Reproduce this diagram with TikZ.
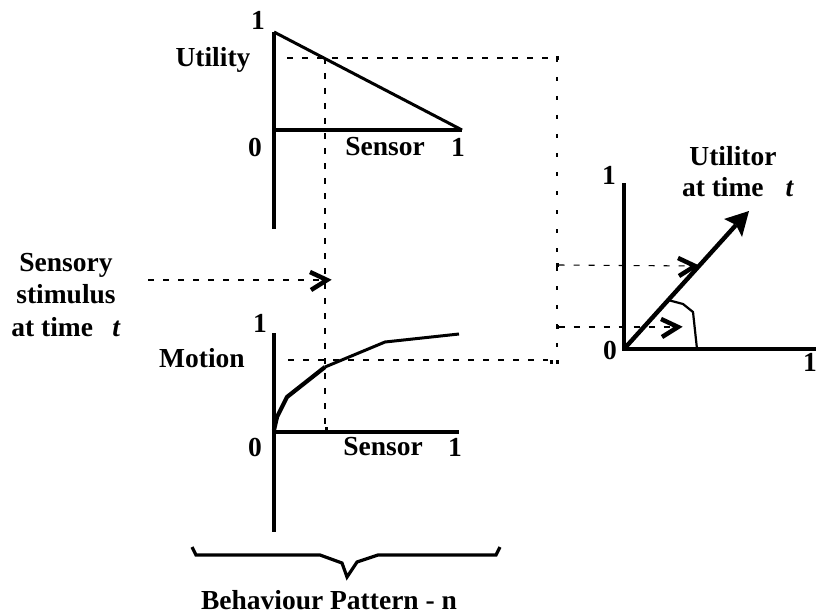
\documentclass[tikz,border=0pt]{standalone}
\usepackage{fontspec}
\setmainfont{Liberation Serif}
\usetikzlibrary{calc}
\begin{document}
\begin{tikzpicture}[x=1pt,y=-1pt,
  lbl/.style={inner sep=0pt,font=\fontsize{27.5}{32.5}\selectfont\bfseries},
  axis/.style={line width=3.6pt},
  curve/.style={line width=3pt,line join=round},
  dline/.style={line width=1.1pt,dash pattern=on 6pt off 9pt},
  dsparse/.style={line width=1.1pt,dash pattern=on 4pt off 15pt},
  chevron/.style={line width=4.5pt,line join=miter,line cap=butt},
  dot/.style={fill=black,inner sep=0pt,minimum width=3pt,minimum height=4pt}]
\useasboundingbox (0,0) rectangle (816,615);
% ---------- top chart (Utility) ----------
\coordinate (uTop) at (274,32);
\coordinate (uO) at (274,130);
\coordinate (uBot) at (274,229);
\coordinate (uEnd) at (462,130);
\draw[axis] (uTop) -- (uBot);
\draw[axis] (uO) -- (uEnd);
\draw[curve] (uTop) -- (uEnd);
\node[lbl] (u1) at (258,20) {1};
\node[lbl] (uLab) at (213,60) {Utility};
\node[lbl] (u0) at (255,147) {0};
\node[lbl] (uSen) at (385,147) {Sensor};
\node[lbl] (uS1) at (458,147) {1};
% ---------- dashed guides ----------
\coordinate (uDL) at (287,58);
\coordinate (uDR) at (557,58);
\coordinate (sTop) at (325,58);
\coordinate (sBot) at (325,429);
\coordinate (rvBot) at (557,362);
\draw[dline] (uDL) -- (uDR);
\draw[dline] (sTop) -- (sBot);
\draw[dsparse] (uDR) -- (rvBot);
\node[dot] (q1) at (uDR) {};
\node[dot,minimum width=3pt,minimum height=5pt] (q0) at (326,429) {};
% sensory stimulus
\node[lbl,align=center] (stim) at (66,295) {Sensory\\stimulus\\at time\hspace{0.45em} \textit{t}};
\coordinate (stL) at (148,280);
\coordinate (stR) at (327,280);
\draw[dline] (stL) -- (stR);
\draw[chevron] ($(stR)+(-17,-8)$) -- (stR) -- ($(stR)+(-16,10)$);
% ---------- motion chart ----------
\coordinate (mTop) at (274,333);
\coordinate (mO) at (274,432);
\coordinate (mBot) at (274,532);
\coordinate (mEnd) at (459,432);
\draw[axis] (mTop) -- (mBot);
\draw[axis] (mO) -- (mEnd);
\draw[line width=4.2pt,line join=round] (274,430) -- (277,417) -- (287,397) -- (325,367);
\draw[curve] (325,367) -- (385,342) -- (459,334);
\coordinate (mDL) at (288,360);
\coordinate (mDR) at (548,360);
\draw[dline] (mDL) -- (mDR);
\node[dot] (q2) at (551,362) {};
\node[dot] (q3) at (557,362) {};
\node[lbl] (m1) at (260,323) {1};
\node[lbl] (mLab) at (202,358) {Motion};
\node[lbl] (m0) at (255,447) {0};
\node[lbl] (mSen) at (383,447) {Sensor};
\node[lbl] (mS1) at (455,447) {1};
% ---------- brace ----------
\draw[line width=3.2pt,line join=miter] (192,547) -- (196,555) -- (320,555) -- (342,563) -- (347,577)
  -- (357,562) -- (378,555) -- (496,555) -- (500,547);
\node[lbl] (beh) at (329,600) {Behaviour Pattern - n};
% ---------- right chart (Utilitor) ----------
\coordinate (rTop) at (624,183);
\coordinate (rO) at (624,349);
\coordinate (rEnd) at (816,349);
\coordinate (vTip) at (749,211);
\coordinate (vBase) at (736,225);
\draw[axis] (rTop) -- (rO) -- (rEnd);
\draw[line width=4.4pt] (rO) -- (vBase);
\fill (vTip) -- (724,219) -- (736,225) -- (742,237) -- cycle;
\draw[line width=2.2pt,line join=round] (668,300) -- (683,304) -- (693,312) -- (697,349);
\node[dot] (q4) at (557,265) {};
\node[dot] (q5) at (557,327) {};
\coordinate (aU) at (695,266);
\coordinate (aL) at (678,327);
\draw[dline] (q4) -- (aU);
\draw[chevron] ($(aU)+(-17,-8)$) -- (aU) -- ($(aU)+(-16,10)$);
\draw[dline] (q5) -- (aL);
\draw[chevron] ($(aL)+(-17,-8)$) -- (aL) -- ($(aL)+(-16,10)$);
\node[lbl] (r1) at (609,175) {1};
\node[lbl] (r0) at (610,350) {0};
\node[lbl] (rS1) at (810,362) {1};
\node[lbl] (util) at (733,156) {Utilitor};
\node[lbl] (utime) at (738,187) {at time\hspace{0.55em} \textit{t}};
\end{tikzpicture}
\end{document}
